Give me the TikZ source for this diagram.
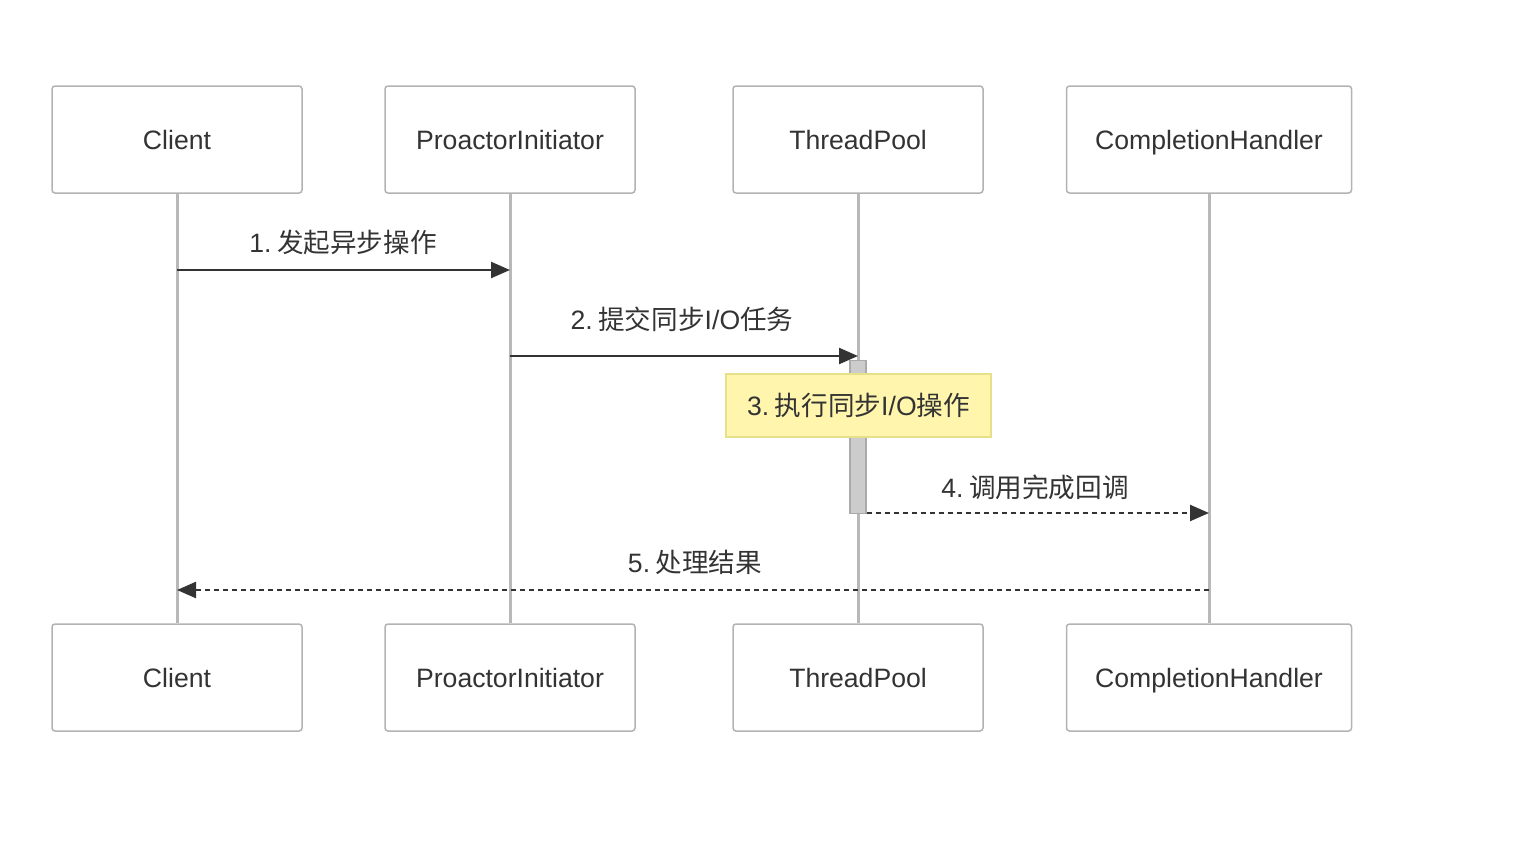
\documentclass[tikz,border=0pt]{standalone}
\usepackage{fontspec}
\setmainfont{Liberation Sans}
\newfontfamily\cjk{Noto Sans CJK SC}
\usetikzlibrary{arrows.meta}
\definecolor{txt}{HTML}{333333}
\definecolor{boxline}{HTML}{B3B3B3}
\definecolor{lifeline}{HTML}{B8B8B8}
\definecolor{notefill}{HTML}{FFF5AD}
\definecolor{noteline}{HTML}{E6E08A}
\definecolor{actfill}{HTML}{CCCCCC}
\definecolor{actline}{HTML}{AAAAAA}
\newcommand{\lblsp}{\kern5.5pt}
\begin{document}
\begin{tikzpicture}[x=1pt,y=-1pt,
  actor/.style={draw=boxline,line width=1.5pt,rounded corners=3pt,fill=white,
    minimum width=250pt,minimum height=107pt,inner sep=0pt,text=txt,
    text height=21pt,text depth=2pt,
    font=\fontsize{26.6}{30}\selectfont},
  life/.style={draw=lifeline,line width=3pt},
  msg/.style={draw=txt,line width=2.4pt,-{Triangle[length=19pt,width=16pt]}},
  reply/.style={msg,dash pattern=on 5.5pt off 3.5pt},
  lbl/.style={text=txt,font=\fontsize{26.6}{30}\selectfont,inner sep=0pt},
]
\useasboundingbox (0,0) rectangle (1539,862);
% top actors
\node[actor] (t1) at (177,139.5) {Client};
\node[actor] (t2) at (510,139.5) {ProactorInitiator};
\node[actor] (t3) at (858,139.5) {ThreadPool};
\node[actor,minimum width=285pt] (t4) at (1209,139.5) {CompletionHandler};
% bottom actors
\node[actor] (b1) at (177,677.5) {Client};
\node[actor] (b2) at (510,677.5) {ProactorInitiator};
\node[actor] (b3) at (858,677.5) {ThreadPool};
\node[actor,minimum width=285pt] (b4) at (1209,677.5) {CompletionHandler};
% lifelines
\draw[life] (t1.south) -- (b1.north);
\draw[life] (t2.south) -- (b2.north);
\draw[life] (t3.south) -- (b3.north);
\draw[life] (t4.south) -- (b4.north);
% activation
\node[draw=actline,fill=actfill,line width=1.2pt,minimum width=16pt,minimum height=153pt,inner sep=0pt] (act) at (858,437) {};
% message coordinates
\coordinate (m1a) at (t1.south |- 0,270);
\coordinate (m1b) at (t2.south |- 0,270);
\coordinate (m2a) at (t2.south |- 0,356);
\coordinate (m2b) at (t3.south |- 0,356);
\coordinate (m4a) at (act.east |- 0,513);
\coordinate (m4b) at (t4.south |- 0,513);
\coordinate (m5a) at (t4.south |- 0,590);
\coordinate (m5b) at (t1.south |- 0,590);
\draw[msg] (m1a) -- (m1b);
\node[lbl] (l1) at (343,242) {1.\lblsp{\cjk 发起异步操作}};
\draw[msg] (m2a) -- (m2b);
\node[lbl] (l2) at (682,319) {2.\lblsp{\cjk 提交同步}I/O{\cjk 任务}};
% note
\node[draw=noteline,fill=notefill,line width=1.3pt,minimum width=265pt,minimum height=63pt,inner sep=0pt,text=txt,font=\fontsize{26.6}{30}\selectfont] (note) at (858.5,405.5) {3.\lblsp{\cjk 执行同步}I/O{\cjk 操作}};
\draw[reply] (m4a) -- (m4b);
\node[lbl] (l4) at (1035,487) {4.\lblsp{\cjk 调用完成回调}};
\draw[reply] (m5a) -- (m5b);
\node[lbl] (l5) at (695,562) {5.\lblsp{\cjk 处理结果}};
\end{tikzpicture}
\end{document}
